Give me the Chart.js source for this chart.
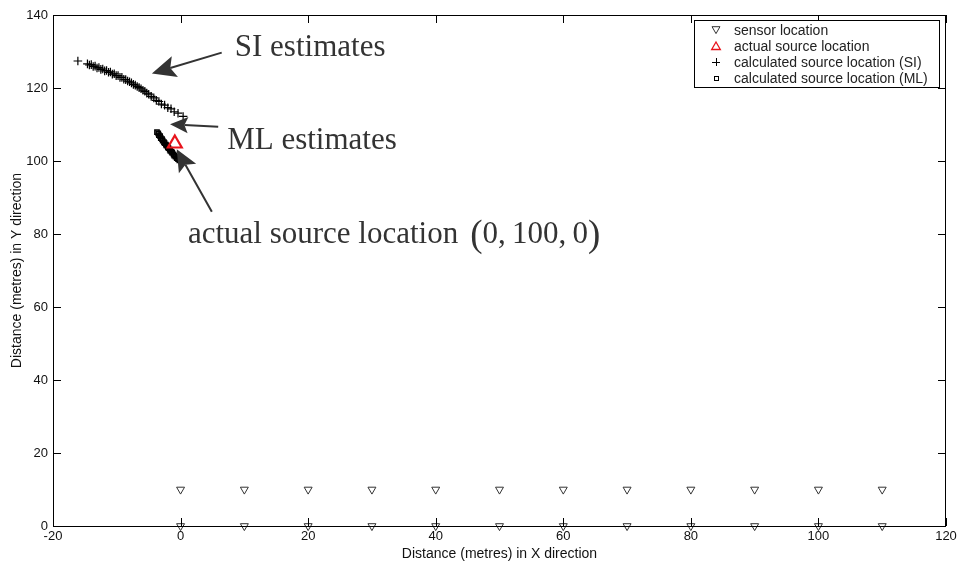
<!DOCTYPE html>
<html>
<head>
<meta charset="utf-8">
<script src="https://cdn.jsdelivr.net/npm/chart.js@4.4.1/dist/chart.umd.min.js"></script>
<style>
  body { margin: 0; background: #fff; }
  canvas { display: block; }
</style>
</head>
<body>
<canvas id="myChart" width="963" height="565"></canvas>
<script>
// sensor grid, two rows (y = 10 and y = 0)
const sensorX = [0, 10, 20, 30, 40, 50, 60, 70, 80, 90, 100, 110,
                 0, 10, 20, 30, 40, 50, 60, 70, 80, 90, 100, 110]
const sensorY = [10, 10, 10, 10, 10, 10, 10, 10, 10, 10, 10, 10,
                 0, 0, 0, 0, 0, 0, 0, 0, 0, 0, 0, 0]

// actual source location (as plotted)
const srcX = [-0.9]
const srcY = [104.8]

// SI estimates
const siX = [-16.1, -14.6, -14.3, -14.0, -13.7, -13.4, -13.1, -12.8, -12.5, -12.2, -11.9, -11.6,
             -11.3, -11.0, -10.7, -10.4, -10.1, -9.8, -9.5, -9.2, -8.9, -8.6, -8.3, -8.0,
             -7.7, -7.4, -7.1, -6.8, -6.5, -6.2, -5.9, -5.6, -5.3, -5.0, -4.6, -4.2,
             -3.8, -3.4, -3.0, -2.5, -2.0, -1.5, -1.0, -0.4, 0.4]
const siY = [127.4, 126.6, 126.3, 126.4, 125.9, 126.0, 125.5, 125.6, 125.1, 125.2, 124.7, 124.8,
             124.3, 124.4, 123.8, 123.9, 123.4, 123.4, 122.9, 122.9, 122.4, 122.3, 121.9, 121.7,
             121.4, 121.0, 120.8, 120.4, 120.1, 119.8, 119.4, 119.1, 118.6, 118.3, 117.7, 117.3,
             116.6, 116.3, 115.6, 115.3, 114.6, 114.3, 113.5, 113.1, 112.2]

// ML estimates
const mlX = [-3.7, -3.5, -3.4, -3.2, -3.1, -2.9, -2.8, -2.6, -2.5, -2.3, -2.2, -2.0,
             -1.9, -1.7, -1.6, -1.4, -1.3, -1.1, -1.0, -0.8, -0.6, -0.4, -0.2]
const mlY = [107.9, 107.6, 107.1, 106.8, 106.3, 106.0, 105.6, 105.2, 104.9, 104.5, 104.2, 103.8,
             103.5, 103.1, 102.8, 102.5, 102.2, 101.8, 101.5, 101.2, 100.8, 100.5, 100.2]

const xTicks = [-20, 0, 20, 40, 60, 80, 100, 120]
const yTicks = [0, 20, 40, 60, 80, 100, 120, 140]

const legendLabels = ['sensor location', 'actual source location',
                      'calculated source location (SI)', 'calculated source location (ML)']

const toPoints = (xs, ys) => xs.map((x, i) => ({ x: x, y: ys[i] }))

// text callouts, in data units
const notes = [
  { text: 'SI estimates', x: 8.5, y: 128.8, tail: [6.45, 129.7], tip: [-4.5, 124.0], head: 24 },
  { text: 'ML estimates', x: 7.3, y: 103.3, tail: [5.9, 109.4], tip: [-1.65, 110.1], head: 18 },
  { text: 'actual source location', math: '0,\u2009100,\u20090', x: 1.15, y: 77.4,
    tail: [4.9, 86.1], tip: [-0.6, 103.2], head: 22 }
]

const ink = '#111'
const sans = '"Liberation Sans", Arial, sans-serif'
const serif = '"Liberation Serif", "Times New Roman", serif'

function drawArrow(ctx, x1, y1, x2, y2, len) {
  const a = Math.atan2(y2 - y1, x2 - x1)
  const w = len * 0.45
  const bx = x2 - Math.cos(a) * len, by = y2 - Math.sin(a) * len
  const nx = x2 - Math.cos(a) * len * 0.8, ny = y2 - Math.sin(a) * len * 0.8
  ctx.strokeStyle = '#333'
  ctx.fillStyle = '#333'
  ctx.lineWidth = 2
  ctx.beginPath()
  ctx.moveTo(x1, y1)
  ctx.lineTo(nx, ny)
  ctx.stroke()
  ctx.beginPath()
  ctx.moveTo(x2, y2)
  ctx.lineTo(bx - Math.sin(a) * w, by + Math.cos(a) * w)
  ctx.lineTo(nx, ny)
  ctx.lineTo(bx + Math.sin(a) * w, by - Math.cos(a) * w)
  ctx.closePath()
  ctx.fill()
}

function tri(ctx, x, y, r, down) {
  const s = down ? -1 : 1
  ctx.beginPath()
  ctx.moveTo(x, y - s * r)
  ctx.lineTo(x + r * 0.866, y + s * r * 0.5)
  ctx.lineTo(x - r * 0.866, y + s * r * 0.5)
  ctx.closePath()
  ctx.stroke()
}

const framePlugin = {
  id: 'frame',
  afterDatasetsDraw(chart) {
    const { ctx, chartArea: a, scales } = chart
    ctx.save()
    ctx.strokeStyle = '#000'
    ctx.lineWidth = 1
    ctx.strokeRect(a.left + 0.5, a.top + 0.5, a.right - a.left - 1, a.bottom - a.top)
    ctx.beginPath()
    xTicks.forEach(v => {
      const px = Math.round(scales.x.getPixelForValue(v)) + 0.5
      ctx.moveTo(px, a.bottom); ctx.lineTo(px, a.bottom - 8)
      ctx.moveTo(px, a.top); ctx.lineTo(px, a.top + 8)
    })
    yTicks.forEach(v => {
      const py = Math.round(scales.y.getPixelForValue(v)) + 0.5
      ctx.moveTo(a.left, py); ctx.lineTo(a.left + 8, py)
      ctx.moveTo(a.right, py); ctx.lineTo(a.right - 8, py)
    })
    ctx.stroke()

    // callouts
    notes.forEach(n => {
      drawArrow(ctx, scales.x.getPixelForValue(n.tail[0]), scales.y.getPixelForValue(n.tail[1]),
        scales.x.getPixelForValue(n.tip[0]), scales.y.getPixelForValue(n.tip[1]), n.head)
      const tx = scales.x.getPixelForValue(n.x), ty = scales.y.getPixelForValue(n.y)
      ctx.fillStyle = '#333'
      ctx.textBaseline = 'alphabetic'
      ctx.textAlign = 'left'
      ctx.font = '31px ' + serif
      ctx.fillText(n.text, tx, ty)
      if (n.math) {
        let cx = tx + ctx.measureText(n.text).width + 12
        ctx.font = '37px ' + serif
        ctx.fillText('(', cx, ty + 3)
        cx += ctx.measureText('(').width
        ctx.font = '31px ' + serif
        ctx.fillText(n.math, cx, ty)
        cx += ctx.measureText(n.math).width
        ctx.font = '37px ' + serif
        ctx.fillText(')', cx, ty + 3)
      }
    })

    // legend box
    const lx = 694, ly = 20, lw = 245, lh = 67
    ctx.fillStyle = '#fff'
    ctx.fillRect(lx, ly, lw, lh)
    ctx.strokeStyle = '#000'
    ctx.lineWidth = 1
    ctx.strokeRect(lx + 0.5, ly + 0.5, lw, lh)
    const rows = [30, 46, 62, 78]
    const mx = 716
    ctx.lineWidth = 1
    ctx.strokeStyle = '#333'
    tri(ctx, mx, rows[0] - 1, 4.6, true)
    ctx.strokeStyle = '#e8141c'
    ctx.lineWidth = 1.3
    tri(ctx, mx, rows[1] + 1, 5, false)
    ctx.strokeStyle = '#000'
    ctx.lineWidth = 1
    ctx.beginPath()
    ctx.moveTo(mx - 4, rows[2] + 0.5); ctx.lineTo(mx + 4, rows[2] + 0.5)
    ctx.moveTo(mx + 0.5, rows[2] - 4); ctx.lineTo(mx + 0.5, rows[2] + 4)
    ctx.stroke()
    ctx.strokeRect(mx - 1.5, rows[3] - 1.5, 4, 4)
    ctx.fillStyle = '#222'
    ctx.font = '14px ' + sans
    ctx.textBaseline = 'middle'
    legendLabels.forEach((t, i) => ctx.fillText(t, 734, rows[i] + 1))
    ctx.restore()
  }
}

const ctx = document.getElementById('myChart').getContext('2d')
const myChart = new Chart(ctx, {
  type: 'scatter',
  data: {
    datasets: [
      {
        label: legendLabels[1],
        data: toPoints(srcX, srcY),
        pointStyle: 'triangle',
        radius: 8,
        borderColor: '#e8141c',
        backgroundColor: 'rgba(0,0,0,0)',
        borderWidth: 2.2,
        clip: false
      },
      {
        label: legendLabels[2],
        data: toPoints(siX, siY),
        pointStyle: 'cross',
        radius: 4.3,
        borderColor: '#000',
        borderWidth: 1.2,
        clip: false
      },
      {
        label: legendLabels[3],
        data: toPoints(mlX, mlY),
        pointStyle: 'rect',
        radius: 3,
        borderColor: '#000',
        backgroundColor: 'rgba(0,0,0,0)',
        borderWidth: 1.5,
        clip: false
      },
      {
        label: legendLabels[0],
        data: toPoints(sensorX, sensorY),
        pointStyle: 'triangle',
        rotation: 180,
        radius: 4.6,
        borderColor: '#333',
        backgroundColor: 'rgba(0,0,0,0)',
        borderWidth: 1,
        clip: false
      }
    ]
  },
  options: {
    responsive: false,
    animation: false,
    events: [],
    layout: { padding: { top: 15, right: 17, bottom: 0, left: 0 } },
    plugins: { legend: { display: false }, tooltip: { enabled: false } },
    scales: {
      x: {
        type: 'linear',
        min: -20,
        max: 120,
        afterFit: s => { s.height = 39 },
        afterBuildTicks: s => { s.ticks = xTicks.map(v => ({ value: v })) },
        grid: { display: false, drawTicks: false },
        border: { display: false },
        ticks: { color: ink, padding: 3, font: { family: sans, size: 13 } },
        title: { display: true, text: 'Distance (metres) in X direction', color: ink,
                 padding: { top: 0, bottom: 2 }, font: { family: sans, size: 14 } }
      },
      y: {
        type: 'linear',
        min: 0,
        max: 140,
        afterFit: s => { s.width = 53 },
        afterBuildTicks: s => { s.ticks = yTicks.map(v => ({ value: v })) },
        grid: { display: false, drawTicks: false },
        border: { display: false },
        ticks: { color: ink, padding: 5, font: { family: sans, size: 13 } },
        title: { display: true, text: 'Distance (metres) in Y direction', color: ink,
                 padding: { top: 9, bottom: 0 }, font: { family: sans, size: 14 } }
      }
    }
  },
  plugins: [framePlugin]
})
</script>
</body>
</html>
